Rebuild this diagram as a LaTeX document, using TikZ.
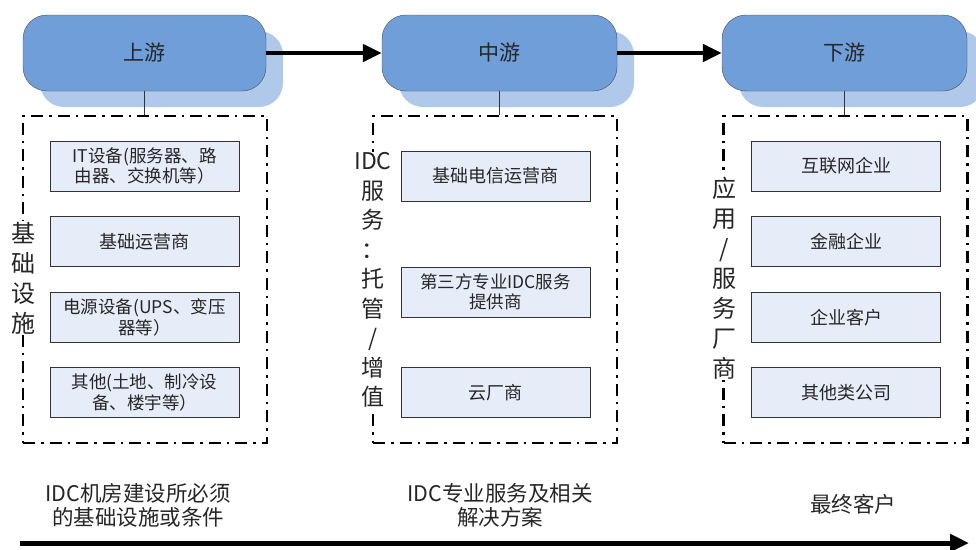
\documentclass[tikz,border=0pt]{standalone}
\usepackage{fontspec}
\setmainfont{Noto Sans CJK SC}
\usepackage{xcolor}
\usetikzlibrary{positioning,arrows.meta,shadows}

\definecolor{pillblue}{RGB}{112,158,216}
\definecolor{pillshadow}{RGB}{176,200,234}
\definecolor{itemfill}{RGB}{231,237,248}

\begin{document}
\begin{tikzpicture}
  [x=1pt,y=-1pt,
   stage/.style={draw=black!70,fill=pillblue,rounded corners=24pt,
     minimum width=243pt,minimum height=76pt,text=black!85,
     font=\fontsize{21}{25}\selectfont,
     drop shadow={shadow xshift=17pt,shadow yshift=-16pt,fill=pillshadow,opacity=1}},
   group/.style={draw,line width=2.3pt,dash pattern=on 12pt off 6pt on 2.5pt off 6pt,
     minimum width=244pt,minimum height=327pt},
   item/.style={draw=black!80,fill=itemfill,minimum width=189pt,minimum height=50pt,
     align=center,text=black!85,font=\fontsize{18}{21}\selectfont},
   twoline/.style={font=\fontsize{17.5}{20.5}\selectfont},
   side/.style={fill=white,align=center,inner sep=1pt,text=black!85,
     font=\fontsize{24}{30}\selectfont},
   note/.style={align=center,text=black!85,font=\fontsize{21.5}{24}\selectfont},
   flow/.style={line width=4.5pt,-{Triangle[length=19pt,width=17pt]}}]
  \useasboundingbox (0,0) rectangle (976,549);

  % three stages
  \node[stage] (up) at (144.5,53) {上游};
  \node[stage,minimum width=235pt] (mid) at (499.5,53) {中游};
  \node[stage,minimum width=245pt] (down) at (844.5,53) {下游};

  % dash-dot groups
  \node[group] (upgrp) at (145,279.5) {};
  \node[group] (midgrp) at (495,279.5) {};
  \node[group] (downgrp) at (845.5,279.5) {};

  \node[side] (uplab) at (23,278) {基\\础\\设\\施};
  \node[side,font=\fontsize{23}{29.5}\selectfont] (midlab) at (373,280) {IDC\\服\\务\\：\\托\\管\\/\\增\\值};
  \node[side] (downlab) at (724,278) {应\\用\\/\\服\\务\\厂\\商};

  % upstream items
  \node[item,twoline] (u1) at (144.5,166) {IT设备(服务器、路\\由器、交换机等）};
  \node[item] (u2) at (144.5,241.5) {基础运营商};
  \node[item,twoline] (u3) at (144.5,317.5) {电源设备(UPS、变压\\器等）};
  \node[item,twoline] (u4) at (144.5,392.5) {其他(土地、制冷设\\备、楼宇等）};

  % midstream items
  \node[item] (m1) at (495.5,176) {基础电信运营商};
  \node[item,twoline] (m2) at (495.5,292) {第三方专业IDC服务\\提供商};
  \node[item] (m3) at (495.5,392.5) {云厂商};

  % downstream items
  \node[item] (d1) at (846,166) {互联网企业};
  \node[item] (d2) at (846,241.5) {金融企业};
  \node[item] (d3) at (846,317.5) {企业客户};
  \node[item] (d4) at (846,392.5) {其他类公司};

  \foreach \from/\to in {up/mid,mid/down}
    \draw[flow] (\from) -- (\to);
  \foreach \stage/\grp in {up/upgrp,mid/midgrp,down/downgrp}
    \draw[black!80] (\stage.south) -- (\stage.south |- \grp.north);

  % bottom notes
  \node[note] (upnote) at (138,505) {IDC机房建设所必须\\的基础设施或条件};
  \node[note] (midnote) at (500,505) {IDC专业服务及相关\\解决方案};
  \node[note] (downnote) at (853,504) {最终客户};

  \coordinate (axisl) at (20,543);
  \coordinate (axisr) at (969,543);
  \draw[flow,line width=5pt] (axisl) -- (axisr);

\end{tikzpicture}
\end{document}
